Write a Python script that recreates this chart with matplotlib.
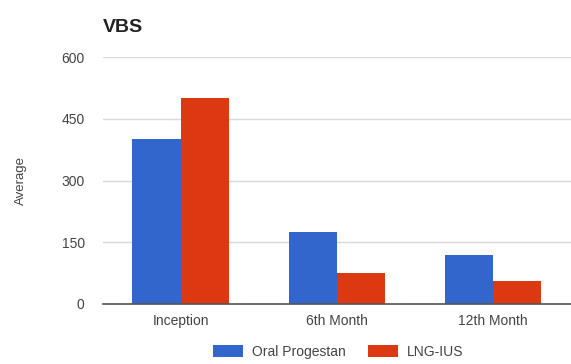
import matplotlib
matplotlib.use("Agg")
import matplotlib.pyplot as plt
from matplotlib.patches import Patch
import numpy as np

plt.rcParams['font.family'] = ['Liberation Sans', 'DejaVu Sans']

categories = ["Inception", "6th Month", "12th Month"]
series_names = ["Oral Progestan", "LNG-IUS"]
oral_progestan = [400, 175, 120]
lng_ius = [500, 75, 55]
y_ticks = [0, 150, 300, 450, 600]

blue = "#3366cc"
red = "#dc3912"
text_color = "#444444"

fig = plt.figure(figsize=(5.71, 3.64), dpi=100)
ax = fig.add_axes([0.18, 0.165, 0.82, 0.678])

x = np.arange(len(categories))
w = 0.31
ax.bar(x - w / 2, oral_progestan, width=w, color=blue, zorder=3)
ax.bar(x + w / 2, lng_ius, width=w, color=red, zorder=3)

ax.set_xlim(-0.5, len(categories) - 0.5)
ax.set_ylim(0, 600)
ax.set_yticks(y_ticks)
ax.set_yticklabels([str(t) for t in y_ticks])
ax.set_xticks(x)
ax.set_xticklabels(categories)
ax.tick_params(axis='both', length=0, labelsize=10, colors=text_color)
ax.tick_params(axis='y', pad=13)
ax.tick_params(axis='x', pad=7)

ax.grid(axis='y', color='#d9d9d9', linewidth=1, zorder=0)
for s in ['top', 'right', 'left']:
    ax.spines[s].set_visible(False)
ax.spines['bottom'].set_color('#555555')
ax.spines['bottom'].set_linewidth(1.2)
ax.spines['bottom'].set_zorder(4)

ax.set_ylabel("Average", fontsize=9.5, color=text_color, labelpad=25)

fig.text(0.18, 0.925, "VBS", fontsize=14, fontweight='bold', color='#222222',
         ha='left', va='center')

handles = [Patch(facecolor=blue), Patch(facecolor=red)]
fig.legend(handles, series_names, loc='center', bbox_to_anchor=(0.592, 0.033),
           ncol=2, frameon=False, fontsize=10, handlelength=2.2, handleheight=1.0,
           columnspacing=1.6, handletextpad=0.6, labelcolor=text_color)

fig.savefig("out.png", dpi=100)
